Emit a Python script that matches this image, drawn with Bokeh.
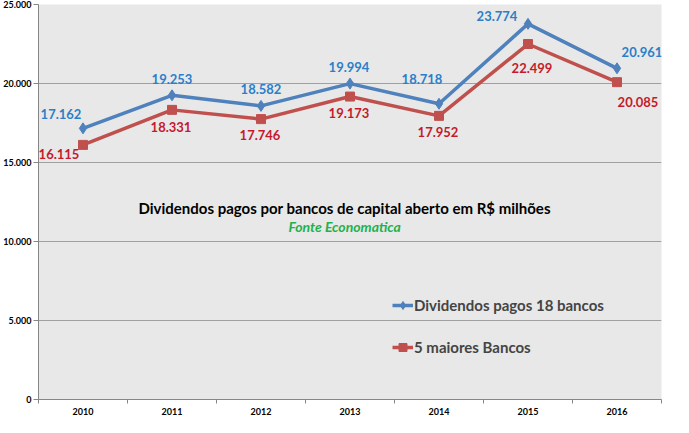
from bokeh.core.properties import value
from bokeh.embed import file_html
from bokeh.models import ColumnDataSource, CustomJSTickFormatter, FixedTicker, Label, Range1d
from bokeh.plotting import figure
from bokeh.resources import INLINE

years = ["2010", "2011", "2012", "2013", "2014", "2015", "2016"]
banks_18 = [17162, 19253, 18582, 19994, 18718, 23774, 20961]
top_5 = [16115, 18331, 17746, 19173, 17952, 22499, 20085]
y_ticks = [0, 5000, 10000, 15000, 20000, 25000]

chart_title = "Dividendos pagos por bancos de capital aberto em R$ milhões"
source_note = "Fonte Economatica"
name_18 = "Dividendos pagos 18 bancos"
name_5 = "5 maiores Bancos"

# where each value label sits relative to its point, screen px (dx, dy)
nudge_18 = [(-22, -14), (0, -16), (0, -17), (-1, -17), (-17, -25), (-31, -8), (25, -16)]
nudge_5 = [(-24, 9), (-1, 17), (-1, 16), (-1, 16), (-1, 16), (4, 24), (21, 20)]

FONT = "Lato"
BLUE = "#4f81bd"
RED = "#c0504d"
AXIS = "#868686"


def fmt(v):
    return f"{v:,}".replace(",", ".")


xs = [i + 0.5 for i in range(len(years))]

p = figure(
    width=673,
    height=417,
    x_range=Range1d(0, len(years)),
    y_range=Range1d(0, 25000),
    output_backend="svg",
    toolbar_location=None,
    min_border_left=34,
    min_border_right=12,
    min_border_top=4,
    min_border_bottom=18,
    background_fill_color="#e8e8e8",
    border_fill_color="white",
    outline_line_color=None,
)

p.xgrid.grid_line_color = None
p.ygrid.grid_line_color = "#a0a0a0"
p.ygrid.ticker = FixedTicker(ticks=y_ticks)

p.xaxis.ticker = FixedTicker(ticks=xs, minor_ticks=list(range(len(years) + 1)))
p.xaxis.major_label_overrides = {x: y for x, y in zip(xs, years)}
p.xaxis.major_tick_line_color = None
p.xaxis.major_tick_out = 0
p.xaxis.major_tick_in = 0
p.xaxis.minor_tick_out = 4
p.xaxis.minor_tick_in = 0
p.xaxis.minor_tick_line_color = AXIS
p.xaxis.major_label_standoff = 4

p.yaxis.ticker = FixedTicker(ticks=y_ticks, minor_ticks=[])
p.yaxis.formatter = CustomJSTickFormatter(code="return tick == 0 ? '0' : (tick / 1000).toFixed(3);")
p.yaxis.major_tick_out = 5
p.yaxis.major_tick_in = 0
p.yaxis.major_tick_line_color = AXIS
p.yaxis.major_label_standoff = 2

for ax in (p.xaxis, p.yaxis):
    ax.axis_line_color = AXIS
    ax.major_label_text_font = FONT
    ax.major_label_text_font_style = "bold"
    ax.major_label_text_font_size = "9px"
    ax.major_label_text_color = "black"

src_18 = ColumnDataSource(dict(
    x=xs, y=banks_18, txt=[fmt(v) for v in banks_18],
    dx=[d[0] for d in nudge_18], dy=[d[1] for d in nudge_18],
))
src_5 = ColumnDataSource(dict(
    x=xs, y=top_5, txt=[fmt(v) for v in top_5],
    dx=[d[0] for d in nudge_5], dy=[d[1] for d in nudge_5],
))

p.line("x", "y", source=src_18, color=BLUE, line_width=3.5, legend_label=name_18)
p.scatter("x", "y", source=src_18, marker="diamond", size=11, color=BLUE, legend_label=name_18)
p.line("x", "y", source=src_5, color=RED, line_width=3.5, legend_label=name_5)
p.scatter("x", "y", source=src_5, marker="square", size=9, color=RED, legend_label=name_5)

for src, col in ((src_18, "#2a7fc9"), (src_5, "#c41a2b")):
    p.text("x", "y", text="txt", source=src, x_offset="dx", y_offset="dy",
           text_align="center", text_baseline="middle",
           text_font=value(FONT), text_font_style="bold", text_font_size="13px",
           text_color=col)

p.add_layout(Label(x=3.44, y=12089, text=chart_title, text_align="center", text_baseline="middle",
                   text_font=FONT, text_font_style="bold", text_font_size="15px", text_color="black"))
p.add_layout(Label(x=3.44, y=10949, text=source_note, text_align="center", text_baseline="middle",
                   text_font=FONT, text_font_style="bold italic", text_font_size="14px",
                   text_color="#22b14c"))

lg = p.legend[0]
lg.location = (354, 42)
lg.padding = 0
lg.margin = 0
lg.border_line_color = None
lg.background_fill_alpha = 0
lg.glyph_width = 21
lg.glyph_height = 20
lg.label_height = 20
lg.spacing = 22
lg.label_standoff = 1
lg.label_text_font = FONT
lg.label_text_font_style = "bold"
lg.label_text_font_size = "15px"

open("out.html", "w").write(file_html(p, INLINE))
